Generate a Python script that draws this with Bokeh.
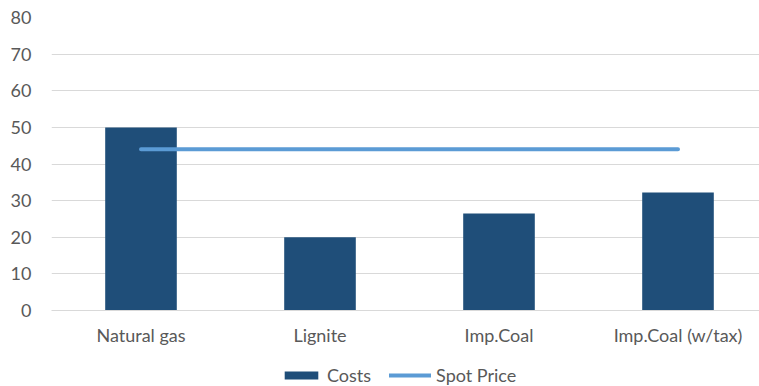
from bokeh.plotting import figure
from bokeh.layouts import column
from bokeh.models import ColumnDataSource, Legend, LegendItem, FixedTicker, Range1d
from bokeh.embed import file_html
from bokeh.resources import INLINE

categories = ["Natural gas", "Lignite", "Imp.Coal", "Imp.Coal (w/tax)"]
costs = [50, 20, 26.5, 32.2]
spot_price = [44, 44, 44, 44]
y_ticks = [0, 10, 20, 30, 40, 50, 60, 70, 80]

xpos = [i + 0.5 for i in range(len(categories))]
src = ColumnDataSource(dict(x=xpos, costs=costs, spot=spot_price, cat=categories))

FONT = "Lato"
GREY = "#595959"
BAR = "#1F4E79"
LINE = "#5B9BD5"

p = figure(frame_width=708, frame_height=293, output_backend="svg", toolbar_location=None,
           x_range=Range1d(0, 708 / 179), y_range=Range1d(0, 80),
           min_border_left=51, min_border_right=0, min_border_top=17, min_border_bottom=40)
p.outline_line_color = None
p.background_fill_color = "white"
p.border_fill_color = "white"

bars = p.vbar(x="x", top="costs", width=0.40, source=src, fill_color=BAR, line_color=None)
line = p.line(x="x", y="spot", source=src, line_color=LINE, line_width=4, line_cap="round")

p.xgrid.grid_line_color = None
p.ygrid.grid_line_color = "#D9D9D9"
p.ygrid.grid_line_width = 1
p.ygrid.ticker = FixedTicker(ticks=y_ticks)

p.yaxis.ticker = FixedTicker(ticks=y_ticks)
p.yaxis.axis_line_color = None
p.yaxis.major_tick_line_color = None
p.yaxis.minor_tick_line_color = None
p.yaxis.major_label_text_font = FONT
p.yaxis.major_label_text_font_size = "18px"
p.yaxis.major_label_text_color = GREY
p.yaxis.major_label_standoff = 14

p.xaxis.ticker = FixedTicker(ticks=xpos)
p.xaxis.major_label_overrides = {x: c for x, c in zip(xpos, categories)}
p.xaxis.axis_line_color = "#D9D9D9"
p.xaxis.major_tick_line_color = None
p.xaxis.minor_tick_line_color = None
p.xaxis.major_label_text_font = FONT
p.xaxis.major_label_text_font_size = "18px"
p.xaxis.major_label_text_color = GREY
p.xaxis.major_label_standoff = 13
p.xaxis.major_tick_out = 0
p.xaxis.major_tick_in = 0
p.xaxis.axis_label_standoff = 0
p.xaxis.axis_label_text_font_size = "0px"

# legend strip below the chart (legend-key renderers sit outside the visible range)
p2 = figure(frame_width=759, frame_height=36, output_backend="svg", toolbar_location=None,
            x_axis_type=None, y_axis_type=None, x_range=Range1d(0, 1), y_range=Range1d(0, 1),
            min_border_left=0, min_border_right=0, min_border_top=0, min_border_bottom=0)
p2.outline_line_color = None
p2.xgrid.grid_line_color = None
p2.ygrid.grid_line_color = None
lb = p2.vbar(x=[10], top=[1], width=0.4, fill_color=BAR, line_color=None)
ll = p2.line(x=[10, 11], y=[0.5, 0.5], line_color=LINE, line_width=4, line_cap="round")

legend = Legend(items=[LegendItem(label="Costs", renderers=[lb]),
                       LegendItem(label="Spot Price", renderers=[ll])],
                orientation="horizontal", location=(280, 0),
                glyph_width=42, glyph_height=10, label_text_font=FONT,
                label_text_font_size="18px", label_text_color=GREY,
                border_line_color=None, background_fill_alpha=0,
                spacing=18, padding=0, margin=0, label_standoff=5, label_height=18)
p2.add_layout(legend, "center")

open("out.html", "w").write(file_html(column(p, p2, spacing=0), INLINE))
